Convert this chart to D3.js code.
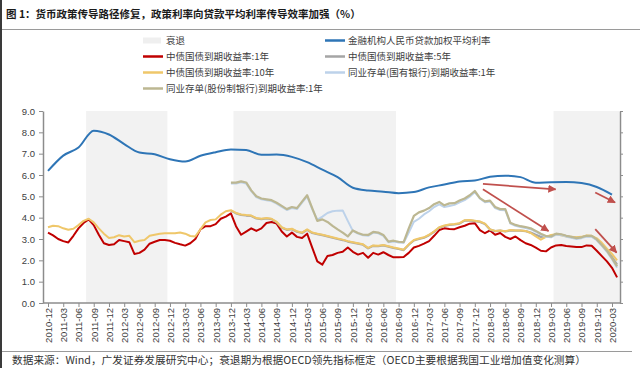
<!DOCTYPE html>
<html>
<head>
<meta charset="utf-8">
<script src="https://cdn.jsdelivr.net/npm/d3@7"></script>
<style>
  body { margin: 0; background: #fff; }
  svg { display: block; font-family: "Liberation Sans", Arial, sans-serif; }
  .cjk { font-family: "Noto Sans CJK SC", sans-serif; }
</style>
</head>
<body>
<svg id="chart" width="640" height="368"></svg>
<script>
// Quarter tick labels on the x axis (one every 3 months, first month = 2010-12)
const quarterLabels = ["2010-12","2011-03","2011-06","2011-09","2011-12","2012-03","2012-06","2012-09",
  "2012-12","2013-03","2013-06","2013-09","2013-12","2014-03","2014-06","2014-09","2014-12","2015-03",
  "2015-06","2015-09","2015-12","2016-03","2016-06","2016-09","2016-12","2017-03","2017-06","2017-09",
  "2017-12","2018-03","2018-06","2018-09","2018-12","2019-03","2019-06","2019-09","2019-12","2020-03"];

const yTicks = [0, 1, 2, 3, 4, 5, 6, 7, 8, 9];

// 金融机构人民币贷款加权平均利率, quarterly (2010-12 .. 2020-03)
const loanRate = [6.19, 6.91, 7.29, 8.08, 7.90, 7.45, 7.05, 6.97, 6.74, 6.63,
  6.90, 7.07, 7.20, 7.17, 6.95, 6.96, 6.85, 6.60, 6.25, 5.90,
  5.40, 5.27, 5.22, 5.15, 5.20, 5.42, 5.55, 5.70, 5.74, 5.92,
  5.97, 5.90, 5.64, 5.66, 5.67, 5.62, 5.44, 5.08];

// 中债国债到期收益率:1年, monthly (2010-12 .. 2020-04)
const cgb1y = [3.30, 3.17, 3.00, 2.90, 2.84, 3.15, 3.50, 3.75, 3.92, 3.65,
  3.20, 2.80, 2.72, 2.75, 2.95, 2.90, 2.85, 2.30, 2.35, 2.50,
  2.78, 2.87, 2.95, 2.95, 2.92, 2.82, 2.75, 2.69, 2.80, 3.00,
  3.45, 3.60, 3.60, 3.70, 3.95, 4.05, 4.20, 3.60, 3.20, 3.35,
  3.50, 3.38, 3.50, 3.75, 3.80, 3.72, 3.35, 3.12, 3.30, 3.10,
  3.05, 3.25, 2.60, 1.95, 1.80, 2.20, 2.25, 2.35, 2.40, 2.60,
  2.40, 2.27, 2.35, 2.12, 2.35, 2.27, 2.38, 2.25, 2.14, 2.14,
  2.16, 2.35, 2.60, 2.68, 2.78, 2.90, 3.15, 3.42, 3.50, 3.47,
  3.46, 3.55, 3.62, 3.72, 3.74, 3.42, 3.27, 3.40, 3.20, 3.28,
  3.10, 3.00, 3.12, 2.95, 2.80, 2.72, 2.60, 2.45, 2.42, 2.60,
  2.70, 2.72, 2.67, 2.65, 2.62, 2.62, 2.70, 2.68, 2.45, 2.20,
  1.95, 1.65, 1.20];

// 中债国债到期收益率:10年, monthly (2010-12 .. 2020-04)
const cgb10y = [3.55, 3.62, 3.60, 3.50, 3.43, 3.48, 3.65, 3.85, 3.95, 3.78,
  3.50, 3.25, 3.05, 3.08, 3.18, 3.12, 3.15, 2.85, 2.92, 2.95,
  3.15, 3.20, 3.25, 3.27, 3.27, 3.27, 3.30, 3.25, 3.14, 3.12,
  3.45, 3.78, 3.89, 3.92, 4.14, 4.30, 4.35, 4.22, 4.15, 4.12,
  4.10, 3.98, 3.95, 3.98, 3.95, 3.80, 3.55, 3.45, 3.48, 3.36,
  3.30, 3.45, 3.30, 3.25, 3.20, 3.14, 3.08, 3.02, 2.97, 2.90,
  2.85, 2.80, 2.75, 2.58, 2.70, 2.68, 2.72, 2.66, 2.60, 2.55,
  2.50, 2.75, 2.95, 3.02, 3.08, 3.20, 3.36, 3.55, 3.63, 3.68,
  3.70, 3.74, 3.88, 3.89, 3.86, 3.82, 3.72, 3.45, 3.38, 3.40,
  3.36, 3.42, 3.40, 3.40, 3.38, 3.28, 3.12, 2.97, 3.10, 3.19,
  3.22, 3.17, 3.12, 3.10, 3.08, 3.10, 3.17, 3.15, 3.03, 2.82,
  2.55, 2.30, 2.00];

// the next three series start in 2013-12 (month index 36)
const lateStart = 36;

// 中债国债到期收益率:5年
const cgb5y = [4.33, 4.20, 4.13, 4.10, 4.08, 3.96, 3.93, 3.96, 3.93, 3.78,
  3.53, 3.43, 3.46, 3.34, 3.28, 3.43, 3.28, 3.23, 3.18, 3.12,
  3.06, 3.00, 2.95, 2.88, 2.83, 2.78, 2.73, 2.56, 2.68, 2.66,
  2.70, 2.64, 2.58, 2.53, 2.48, 2.73, 2.93, 3.00, 3.06, 3.18,
  3.34, 3.53, 3.61, 3.66, 3.68, 3.72, 3.86, 3.87, 3.84, 3.80,
  3.70, 3.44, 3.37, 3.39, 3.35, 3.40, 3.39, 3.39, 3.37, 3.30,
  3.20, 3.10, 3.12, 3.15, 3.22, 3.20, 3.14, 3.08, 3.05, 3.08,
  3.14, 3.13, 2.98, 2.75, 2.48, 2.15, 1.80];

// 同业存单(国有银行)到期收益率:1年
const ncdState = [5.60, 5.60, 5.66, 5.60, 5.24, 4.96, 4.86, 4.82, 4.78, 4.66,
  4.50, 4.36, 4.45, 4.40, 4.70, 5.00, 4.40, 3.90, 4.05, 4.22,
  4.30, 4.33, 4.34, 3.85, 3.38, 3.25, 3.17, 3.15, 3.30, 3.27,
  3.15, 2.85, 2.88, 2.84, 2.82, 3.30, 3.80, 3.95, 4.15, 4.30,
  4.50, 4.62, 4.50, 4.55, 4.60, 4.72, 4.82, 4.98, 5.20, 4.90,
  4.72, 4.76, 4.45, 4.36, 4.35, 3.72, 3.62, 3.56, 3.52, 3.46,
  3.34, 3.21, 3.10, 3.08, 3.21, 3.18, 3.11, 3.06, 3.00, 3.04,
  3.11, 3.11, 2.94, 2.68, 2.40, 2.05, 1.65];

// 同业存单(股份制银行)到期收益率:1年
const ncdJoint = [5.64, 5.64, 5.70, 5.65, 5.28, 5.00, 4.90, 4.86, 4.82, 4.70,
  4.55, 4.40, 4.50, 4.45, 4.75, 5.05, 4.45, 3.85, 3.92, 3.80,
  3.62, 3.45, 3.30, 3.12, 3.40, 3.28, 3.20, 3.19, 3.33, 3.30,
  3.19, 2.88, 2.92, 2.87, 2.85, 3.50, 4.08, 4.25, 4.33, 4.45,
  4.63, 4.74, 4.58, 4.67, 4.68, 4.80, 4.90, 5.05, 5.25, 4.92,
  4.76, 4.80, 4.50, 4.40, 4.40, 3.76, 3.66, 3.60, 3.56, 3.50,
  3.38, 3.25, 3.14, 3.12, 3.25, 3.22, 3.15, 3.10, 3.04, 3.08,
  3.15, 3.15, 2.98, 2.72, 2.45, 2.10, 1.72];

// recession periods (first and last month shaded)
const recessions = [["2011-08", "2012-11"], ["2014-01", "2016-08"], ["2019-04", "2020-04"]];

// annotation arrows: [month index from 2010-12, rate] -> [month index, rate]
const arrows = [
  [[85.6, 5.58], [99.9, 5.33]],
  [[85.6, 5.33], [98.5, 3.37]],
  [[107.7, 5.18], [111.6, 4.71]],
  [[107.7, 3.46], [111.9, 2.36]]
];

// Series names and colours for the legend (two columns)
const legendItems = [
  { name: "衰退", color: "#efefef", kind: "area" },
  { name: "金融机构人民币贷款加权平均利率", color: "#2e75b6", kind: "line" },
  { name: "中债国债到期收益率:1年", color: "#c00000", kind: "line" },
  { name: "中债国债到期收益率:5年", color: "#a5a5a5", kind: "line" },
  { name: "中债国债到期收益率:10年", color: "#efc76a", kind: "line" },
  { name: "同业存单(国有银行)到期收益率:1年", color: "#bdd2ea", kind: "line" },
  { name: "同业存单(股份制银行)到期收益率:1年", color: "#bcb792", kind: "line" }
];

// ---- layout
const plotLeft = 43, plotRight = 620, plotTop = 111, plotBottom = 303;

const svg = d3.select("#chart");

// month index relative to 2010-12
function monthIndex(label) {
    let parts = label.split("-").map(Number);
    return (parts[0] - 2010) * 12 + (parts[1] - 12);
}

let x = d3.scaleLinear().domain([0, 111]).range([48, 612]);
let y = d3.scaleLinear().domain([0, 9]).range([plotBottom, plotTop]);
let halfStep = (x(1) - x(0)) / 2;

// outer frame bits: left border, title rule, footnote rule
svg.append("line").attr("x1", 1).attr("x2", 1).attr("y1", 0).attr("y2", 368)
    .attr("stroke", "#3a3a3a").attr("stroke-width", 2);
svg.append("line").attr("x1", 2).attr("x2", 640).attr("y1", 29.5).attr("y2", 29.5)
    .attr("stroke", "#9a9a9a").attr("stroke-width", 1);
svg.append("line").attr("x1", 2).attr("x2", 632).attr("y1", 351.5).attr("y2", 351.5)
    .attr("stroke", "#9a9a9a").attr("stroke-width", 1);

// title
svg.append("text").attr("class", "cjk")
    .attr("x", 6).attr("y", 18)
    .style("font-size", "10.5px").style("font-weight", "bold").attr("fill", "#1a1a1a")
    .text("图 1：货币政策传导路径修复，政策利率向贷款平均利率传导效率加强（%）");

// recession shading
svg.append("g").selectAll("rect")
    .data(recessions)
    .enter()
    .append("rect")
    .attr("x", d => x(monthIndex(d[0])) - halfStep)
    .attr("width", d => Math.min(x(monthIndex(d[1])) + halfStep, plotRight) - (x(monthIndex(d[0])) - halfStep))
    .attr("y", y(9))
    .attr("height", y(0) - y(9))
    .attr("fill", "#f2f2f2");

// axes
let yAxisLeft = svg.append("g")
    .attr("transform", `translate(${plotLeft},0)`)
    .call(d3.axisLeft(y).tickValues(yTicks).tickFormat(d3.format(".1f")).tickSize(4).tickSizeOuter(0));
yAxisLeft.select(".domain").attr("stroke", "#8c8c8c").attr("stroke-width", 1.5);
yAxisLeft.selectAll(".tick line").attr("stroke", "#8c8c8c");
yAxisLeft.selectAll("text").attr("fill", "#404040").style("font-size", "9.5px").attr("x", -8);

let yAxisRight = svg.append("g")
    .attr("transform", `translate(${plotRight},0)`)
    .call(d3.axisRight(y).tickValues(yTicks).tickFormat("").tickSize(3).tickSizeOuter(0));
yAxisRight.select(".domain").attr("stroke", "#8c8c8c").attr("stroke-width", 1.5);
yAxisRight.selectAll(".tick line").attr("stroke", "#8c8c8c");

let xAxis = svg.append("g")
    .attr("transform", `translate(0,${plotBottom})`)
    .call(d3.axisBottom(x).tickValues(d3.range(0, 112, 3)).tickFormat((d, i) => quarterLabels[i]).tickSize(4).tickSizeOuter(0));
xAxis.select(".domain").remove();
xAxis.append("line").attr("x1", plotLeft).attr("x2", plotRight).attr("y1", 0).attr("y2", 0)
    .attr("stroke", "#8c8c8c").attr("stroke-width", 1.5);
xAxis.selectAll(".tick line").attr("stroke", "#8c8c8c");
xAxis.selectAll("text")
    .attr("fill", "#404040").style("font-size", "9.5px")
    .attr("transform", "rotate(-90)")
    .attr("text-anchor", "end")
    .attr("x", -5).attr("y", 0).attr("dy", "0.35em");

// lines
let lineMonthly = d3.line()
    .x(d => x(d[0]))
    .y(d => y(d[1]));

function withIndex(values, start, stepMonths) {
    return values.map((v, i) => [start + i * stepMonths, v]);
}

let seriesToDraw = [
    { data: withIndex(loanRate, 0, 3), color: "#2e75b6", width: 2, curve: d3.curveMonotoneX },
    { data: withIndex(cgb1y, 0, 1), color: "#c00000", width: 2, curve: d3.curveLinear },
    { data: withIndex(cgb5y, lateStart, 1), color: "#a5a5a5", width: 2.2, curve: d3.curveLinear },
    { data: withIndex(cgb10y, 0, 1), color: "#efc76a", width: 2, curve: d3.curveLinear },
    { data: withIndex(ncdState, lateStart, 1), color: "#bdd2ea", width: 2, curve: d3.curveLinear },
    { data: withIndex(ncdJoint, lateStart, 1), color: "#bcb792", width: 2.2, curve: d3.curveLinear }
];

svg.append("g").selectAll("path")
    .data(seriesToDraw)
    .enter()
    .append("path")
    .attr("d", s => lineMonthly.curve(s.curve)(s.data))
    .attr("fill", "none")
    .attr("stroke", s => s.color)
    .attr("stroke-width", s => s.width)
    .attr("stroke-linejoin", "round");

// arrows
svg.append("defs").append("marker")
    .attr("id", "arrowHead")
    .attr("viewBox", "0 0 10 10")
    .attr("refX", 9).attr("refY", 5)
    .attr("markerWidth", 4.5).attr("markerHeight", 4.5)
    .attr("orient", "auto")
    .append("path").attr("d", "M0,0 L10,5 L0,10 z").attr("fill", "#c0504d");

svg.append("g").selectAll("line")
    .data(arrows)
    .enter()
    .append("line")
    .attr("x1", d => x(d[0][0])).attr("y1", d => y(d[0][1]))
    .attr("x2", d => x(d[1][0])).attr("y2", d => y(d[1][1]))
    .attr("stroke", "#c0504d").attr("stroke-width", 1.8)
    .attr("marker-end", "url(#arrowHead)");

// legend
let legend = svg.append("g").attr("class", "cjk");
let legendRows = legend.selectAll("g")
    .data(legendItems)
    .enter()
    .append("g")
    .attr("transform", (d, i) => `translate(${i % 2 === 0 ? 143 : 325},${40.5 + Math.floor(i / 2) * 16})`);

legendRows.filter(d => d.kind === "area").append("rect")
    .attr("x", 0).attr("y", -3).attr("width", 18).attr("height", 6).attr("fill", d => d.color);
legendRows.filter(d => d.kind === "line").append("line")
    .attr("x1", 0).attr("x2", 20).attr("y1", 0).attr("y2", 0)
    .attr("stroke", d => d.color).attr("stroke-width", 2.5);
legendRows.append("text")
    .attr("x", 23).attr("y", 0).attr("dy", "0.35em")
    .style("font-size", "9.5px").attr("fill", "#404040")
    .text(d => d.name);

// footnote
svg.append("text").attr("class", "cjk")
    .attr("x", 12).attr("y", 364)
    .style("font-size", "10.7px").attr("fill", "#333")
    .text("数据来源：Wind，广发证券发展研究中心；衰退期为根据OECD领先指标框定（OECD主要根据我国工业增加值变化测算）");
</script>
</body>
</html>
